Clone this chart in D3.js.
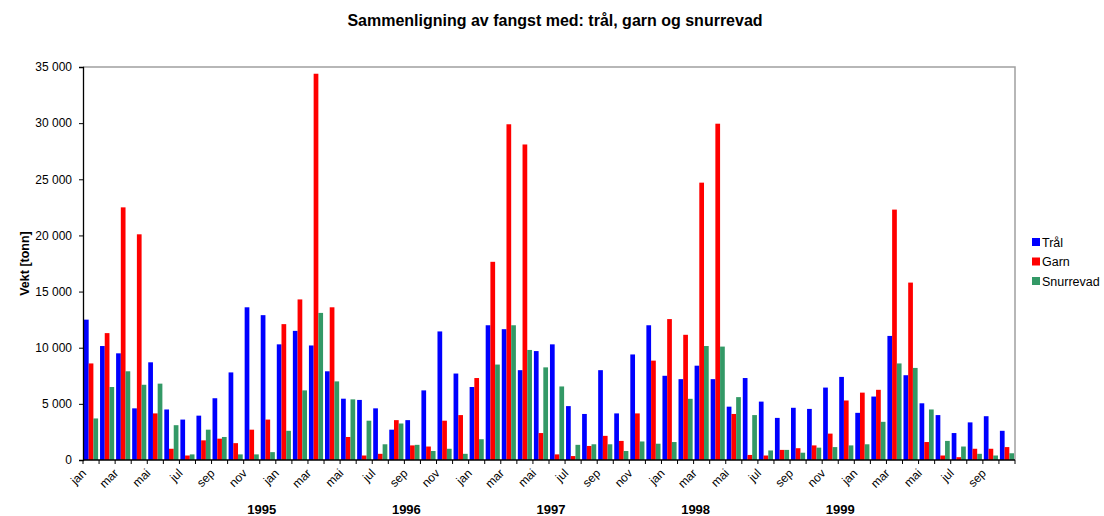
<!DOCTYPE html>
<html>
<head>
<meta charset="utf-8">
<script src="https://cdn.jsdelivr.net/npm/d3@7"></script>
<style>
  body { margin: 0; background: #fff; }
  svg { font-family: "Liberation Sans", Arial, sans-serif; }
</style>
</head>
<body>
<div id="chart"></div>
<script>
// month abbreviations (norwegian), jan 1995 .. okt 1999
const monthNames = ['jan', 'feb', 'mar', 'apr', 'mai', 'jun', 'jul', 'aug', 'sep', 'okt', 'nov', 'des'];
const years = ['1995', '1996', '1997', '1998', '1999'];
const categories = [];
years.forEach(y => monthNames.forEach(m => categories.push(m + ' ' + y)));
categories.splice(58);

// where Excel put the year labels (category the label starts at)
const yearLabelAt = ['des 1995', 'sep 1996', 'jun 1997', 'mar 1998', 'des 1998'];

const seriesNames = ['Trål', 'Garn', 'Snurrevad'];

const tral = [
  12500, 10150, 9500, 4600, 8700, 4500, 3600, 3950, 5500, 7800, 13600, 12900,
  10300, 11500, 10200, 7900, 5460, 5350, 4600, 2700, 3550, 6200, 11450, 7700,
  6500, 12000, 11650, 8000, 9700, 10300, 4800, 4100, 8000, 4150, 9400, 12000,
  7500, 7200, 8400, 7200, 4750, 7300, 5200, 3750, 4650, 4550, 6450, 7400,
  4200, 5650, 11050, 7550, 5050, 4000, 2400, 3350, 3900, 2600
];
const garn = [
  8600, 11300, 22500, 20100, 4150, 1000, 400, 1750, 1900, 1500, 2700, 3600,
  12100, 14300, 34400, 13600, 2050, 400, 550, 3550, 1300, 1200, 3500, 4000,
  7300, 17650, 29900, 28100, 2400, 500, 350, 1250, 2150, 1700, 4150, 8850,
  12550, 11150, 24700, 29950, 4100, 450, 400, 900, 1050, 1300, 2350, 5300,
  6000, 6250, 22300, 15800, 1600, 400, 250, 1000, 1000, 1150
];
const snurrevad = [
  3700, 6500, 7900, 6700, 6800, 3100, 500, 2700, 2050, 500, 500, 700,
  2600, 6200, 13100, 7000, 5400, 3500, 1400, 3250, 1350, 800, 1000, 550,
  1850, 8500, 12000, 9800, 8250, 6550, 1350, 1400, 1400, 800, 1650, 1450,
  1600, 5450, 10150, 10100, 5600, 4000, 850, 900, 650, 1100, 1150, 1300,
  1400, 3400, 8600, 8200, 4500, 1700, 1200, 550, 400, 600
];

const yTicks = [0, 5000, 10000, 15000, 20000, 25000, 30000, 35000];
const colors = ['#0000ff', '#ff0000', '#339966'];

const rows = categories.map((c, i) => ({ cat: c, values: [tral[i], garn[i], snurrevad[i]] }));

const width = 1104, height = 516;
const plot = { left: 83, right: 1015, top: 67, bottom: 460 };

const svg = d3.select('#chart').append('svg')
  .attr('width', width)
  .attr('height', height);

const x0 = d3.scaleBand()
  .domain(categories)
  .range([plot.left, plot.right])
  .paddingInner(0.12)
  .paddingOuter(0.06);

const x1 = d3.scaleBand()
  .domain(seriesNames)
  .range([0, x0.bandwidth()]);

const y = d3.scaleLinear()
  .domain([0, 35000])
  .range([plot.bottom, plot.top]);

const nb = d3.formatLocale({ decimal: ',', thousands: '\u00a0', grouping: [3], currency: ['', ''] });
const fmt = nb.format(',d');

// title
svg.append('text')
  .attr('x', 555).attr('y', 26)
  .attr('text-anchor', 'middle')
  .attr('font-size', 16).attr('font-weight', 'bold')
  .text('Sammenligning av fangst med: trål, garn og snurrevad');

// plot frame (top + right)
svg.append('path')
  .attr('d', `M${plot.left},${plot.top}H${plot.right}V${plot.bottom}`)
  .attr('fill', 'none')
  .attr('stroke', '#a0a0a0')
  .attr('stroke-width', 1.5);

// bars
const groups = svg.append('g').selectAll('g').data(rows).enter().append('g')
  .attr('transform', d => `translate(${x0(d.cat)},0)`);

groups.selectAll('rect')
  .data(d => d.values.map((v, k) => ({ name: seriesNames[k], value: v, k: k })))
  .enter().append('rect')
  .attr('x', d => x1(d.name))
  .attr('width', x1.bandwidth())
  .attr('y', d => y(d.value))
  .attr('height', d => plot.bottom - y(d.value))
  .attr('fill', d => colors[d.k]);

// y axis
const yAxis = svg.append('g')
  .attr('transform', `translate(${plot.left},0)`)
  .call(d3.axisLeft(y).tickValues(yTicks).tickFormat(fmt).tickSize(4).tickPadding(7));
yAxis.select('.domain').attr('stroke', '#000').attr('stroke-width', 1.3);
yAxis.selectAll('.tick line').attr('stroke', '#000');
yAxis.selectAll('text').attr('font-size', 12).attr('fill', '#000')
  .attr('font-family', '"Liberation Sans", Arial, sans-serif');

// x axis: ticks on category boundaries
const xAxisG = svg.append('g').attr('class', 'x-axis');
xAxisG.append('line')
  .attr('x1', plot.left).attr('x2', plot.right)
  .attr('y1', plot.bottom).attr('y2', plot.bottom)
  .attr('stroke', '#000').attr('stroke-width', 1.3);

const step = x0.step();
const boundaries = categories.map(c => x0(c) - x0.paddingInner() * step / 2);
boundaries.push(plot.right);
xAxisG.selectAll('line.tick').data(boundaries).enter().append('line')
  .attr('class', 'tick')
  .attr('x1', d => d).attr('x2', d => d)
  .attr('y1', plot.bottom).attr('y2', plot.bottom + 4)
  .attr('stroke', '#000');

xAxisG.selectAll('text.month')
  .data(categories.filter((c, i) => i % 2 === 0))
  .enter().append('text')
  .attr('class', 'month')
  .attr('transform', d => `translate(${x0(d) + x0.bandwidth() / 2 - 10},${plot.bottom + 8}) rotate(-45)`)
  .attr('text-anchor', 'end')
  .attr('dy', '0.7em')
  .attr('font-size', 12)
  .text(d => d.split(' ')[0]);

xAxisG.selectAll('text.year')
  .data(yearLabelAt)
  .enter().append('text')
  .attr('class', 'year')
  .attr('x', d => x0(d) - x0.paddingInner() * step / 2 + 2)
  .attr('y', 514)
  .attr('text-anchor', 'middle')
  .attr('font-size', 13).attr('font-weight', 'bold')
  .text((d, i) => years[i]);

// y axis title
svg.append('text')
  .attr('transform', `translate(29,${(plot.top + plot.bottom) / 2}) rotate(-90)`)
  .attr('text-anchor', 'middle')
  .attr('font-size', 12.5).attr('font-weight', 'bold')
  .text('Vekt [tonn]');

// legend
const legend = svg.append('g').attr('transform', 'translate(1032,238)');
const item = legend.selectAll('g').data(seriesNames).enter().append('g')
  .attr('transform', (d, i) => `translate(0,${i * 19.5})`);
item.append('rect')
  .attr('width', 8).attr('height', 8)
  .attr('fill', (d, i) => colors[i]);
item.append('text')
  .attr('x', 10).attr('y', 8.5)
  .attr('font-size', 12.5)
  .text(d => d);
</script>
</body>
</html>
